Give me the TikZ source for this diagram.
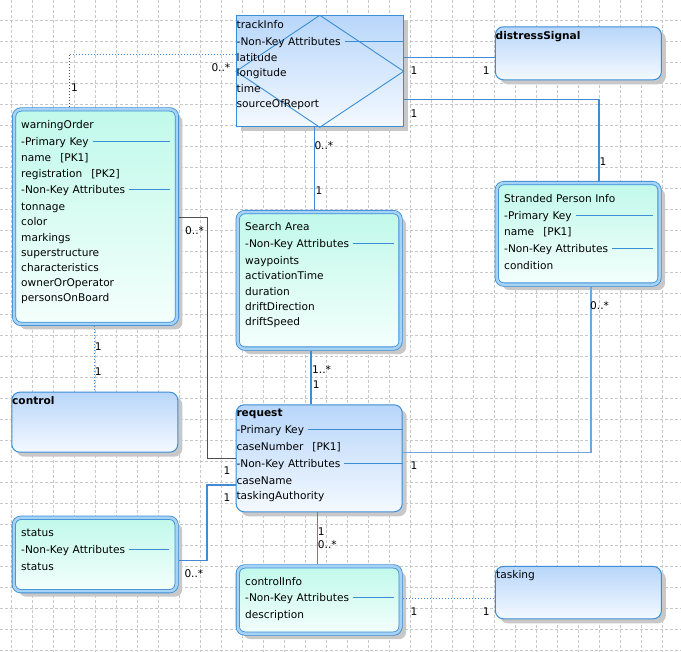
\documentclass[tikz,border=0pt]{standalone}
\usepackage{fontspec}
\setmainfont{DejaVu Sans}
\usetikzlibrary{shadows,backgrounds}
\definecolor{EntBorder}{RGB}{58,142,214}
\definecolor{EntBand}{RGB}{166,210,245}
\definecolor{EntTop}{RGB}{192,249,234}
\definecolor{EntBottom}{RGB}{244,255,252}
\definecolor{BoxTop}{RGB}{184,214,250}
\definecolor{BoxBottom}{RGB}{244,249,255}
\definecolor{LinkBlue}{RGB}{66,139,212}
\definecolor{LinkPale}{RGB}{112,166,222}
\definecolor{LinkGray}{RGB}{78,78,78}
\definecolor{GridGray}{RGB}{200,200,200}
\definecolor{ShadowGray}{RGB}{200,200,200}
\newcommand{\keyrow}[1]{#1\hspace{4pt}{\color{EntBorder}\leaders\hrule height 4.6pt depth -3.6pt\hskip 0pt plus 1fill}\hbox{}}
\newcommand{\pkgap}{\hspace{9pt}}
\tikzset{
  textfont/.style={font=\fontsize{10.6}{15.2}\selectfont,text=black,inner sep=0pt},
  entity/.style={draw=EntBorder,line width=0.8pt,double=EntBand,double distance=2.6pt,rounded corners=7pt,top color=EntTop,bottom color=EntBottom,minimum width=162.8pt,inner sep=0pt,drop shadow={shadow xshift=5.5pt,shadow yshift=-5.5pt,fill=ShadowGray,opacity=1}},
  roundbox/.style={draw=EntBorder,line width=1pt,rounded corners=8pt,top color=BoxTop,bottom color=BoxBottom,minimum width=166pt,inner sep=0pt,drop shadow={shadow xshift=4.5pt,shadow yshift=-4.5pt,fill=ShadowGray,opacity=1}},
  plainbox/.style={roundbox,sharp corners},
  boxtext/.style={textfont,align=left,anchor=base west},
  mult/.style={textfont,anchor=west},
  diamline/.style={draw=EntBorder,line width=0.9pt},
  link/.style={draw=LinkBlue,line width=1.3pt},
  linkpale/.style={draw=LinkPale,line width=1.6pt},
  linkgray/.style={draw=LinkGray,line width=1pt},
  dotconn/.style={draw=LinkBlue,line width=1.1pt,dash pattern=on 1pt off 2pt},
  dotgray/.style={draw=LinkGray,line width=1.1pt,dash pattern=on 1pt off 2pt},
  gridline/.style={draw=GridGray,line width=0.6pt,dash pattern=on 3pt off 2pt}
}
\begin{document}
\begin{tikzpicture}[x=1pt,y=-1pt]
\useasboundingbox (0,0) rectangle (681,652);
\fill[white] (0,0) rectangle (681,652);
\foreach \gx in {0,...,32} \draw[gridline] (11.5+21*\gx,0) -- (11.5+21*\gx,652);
\foreach \gy in {0,...,31} \draw[gridline] (0,20+21*\gy) -- (681,20+21*\gy);

\node[plainbox,minimum width=166.7pt,minimum height=111pt] (trackInfo) at (319.85,71.3) {};
\draw[diamline] (trackInfo.north) -- (trackInfo.east) -- (trackInfo.south) -- (trackInfo.west) -- cycle;
\node[roundbox,minimum height=53pt] (distressSignal) at (578.35,53.3) {};
\node[entity,minimum height=101.5pt] (strandedInfo) at (578.15,233.85) {};
\node[entity,minimum height=214.5pt] (warningOrder) at (95.5,216.65) {};
\node[roundbox,minimum height=60pt] (control) at (94.8,422.2) {};
\node[entity,minimum height=136.5pt] (searchArea) at (319.15,280.35) {};
\node[roundbox,minimum height=107pt] (request) at (319.2,458.3) {};
\node[entity,minimum height=73.4pt] (status) at (95.2,554.5) {};
\node[entity,minimum height=67.2pt] (controlInfo) at (319.2,600) {};
\node[roundbox,minimum height=52.3pt] (tasking) at (578.35,592.65) {};

\node[boxtext,text width=166.5pt] (trackInfoText) at (236.5,28.7) {trackInfo\\[1.4pt] \keyrow{-Non-Key Attributes}\\[1.2pt] latitude\\ longitude\\[0.6pt] time\\ sourceOfReport};
\node[boxtext] (distressSignalText) at (495.5,39.7) {\textbf{distressSignal}};
\node[boxtext,text width=149pt] (strandedInfoText) at (504,202.7) {Stranded Person Info\\[2.1pt] \keyrow{-Primary Key}\\[0.5pt] name\pkgap[PK1]\\[1.8pt] \keyrow{-Non-Key Attributes}\\[1.4pt] condition};
\node[boxtext,text width=149pt] (warningOrderText) at (21,128.7) {warningOrder\\[1.8pt] \keyrow{-Primary Key}\\[0.8pt] name\pkgap[PK1]\\[0.8pt] registration\pkgap[PK2]\\[1.1pt] \keyrow{-Non-Key Attributes}\\[1.5pt] tonnage\\ color\\ markings\\ superstructure\\ characteristics\\ ownerOrOperator\\ personsOnBoard};
\node[boxtext] (controlText) at (12,405) {\textbf{control}};
\node[boxtext,text width=149pt] (searchAreaText) at (245,230.7) {Search Area\\[1.8pt] \keyrow{-Non-Key Attributes}\\[1.8pt] waypoints\\ activationTime\\ duration\\ driftDirection\\ driftSpeed};
\node[boxtext,text width=166.5pt] (requestText) at (236.3,416.7) {\textbf{request}\\[2.1pt] \keyrow{-Primary Key}\\[1.8pt] caseNumber\pkgap[PK1]\\[1.5pt] \keyrow{-Non-Key Attributes}\\[1.8pt] caseName\\ taskingAuthority};
\node[boxtext,text width=148pt] (statusText) at (21,537) {status\\[1.8pt] \keyrow{-Non-Key Attributes}\\[1.8pt] status};
\node[boxtext,text width=149pt] (controlInfoText) at (245,585.7) {controlInfo\\[0.8pt] \keyrow{-Non-Key Attributes}\\[1.8pt] description};
\node[boxtext] (taskingText) at (496,579) {tasking};

\coordinate (wtBend) at (69.7,54.3);
\draw[dotgray,shorten <=2pt] (warningOrder.north -| wtBend) -- (wtBend);
\draw[dotconn] (wtBend) -- (wtBend -| trackInfo.west);
\draw[link] (trackInfo.east |- 0,57.3) -- (distressSignal.west |- 0,57.3);
\draw[link,shorten >=2pt] (trackInfo.east |- 0,99.7) -| (strandedInfo.north -| 599,0);
\draw[link,shorten >=2pt] (trackInfo.south -| 314.7,0) -- (searchArea.north -| 314.7,0);
\draw[linkgray,shorten <=2pt] (warningOrder.east |- 0,217.3) -| (207.5,458.3) -- (request.west);
\draw[dotconn,shorten <=2pt] (warningOrder.south -| 94.7,0) -- (control.north -| 94.7,0);
\draw[link,shorten <=2pt] (searchArea.south -| 311,0) -- (request.north -| 311,0);
\draw[linkpale,shorten <=2pt] (strandedInfo.south -| 591,0) |- (request.east |- 0,452.7);
\draw[link,shorten >=2pt] (request.west |- 0,485) -| (207,560.7) -- (status.east |- 0,560.7);
\draw[link,shorten >=2pt] (request.south -| 317.7,0) -- (controlInfo.north -| 317.7,0);
\draw[dotconn,shorten <=2pt] (controlInfo.east |- 0,598.3) -- (tasking.west |- 0,598.3);

\node[mult] (wtTrack) at (211.3,68) {0..*};
\node[mult] (wtWarn) at (71,88) {1};
\node[mult] (tdTrack) at (410.5,70.7) {1};
\node[mult] (tdSignal) at (482.7,70.7) {1};
\node[mult] (tsTrack) at (410.5,113.7) {1};
\node[mult] (tsStranded) at (599.3,161.7) {1};
\node[mult] (taTrack) at (314.3,146) {0..*};
\node[mult] (taSearch) at (315.3,190.7) {1};
\node[mult] (wrWarn) at (185,230.7) {0..*};
\node[mult] (wrRequest) at (223.3,470.7) {1};
\node[mult] (wcWarn) at (94.7,346.7) {1};
\node[mult] (wcControl) at (94.7,371.7) {1};
\node[mult] (srSearch) at (312,369.7) {1..*};
\node[mult] (srRequest) at (312.7,384.7) {1};
\node[mult] (prStranded) at (590,306) {0..*};
\node[mult] (prRequest) at (410.5,465.7) {1};
\node[mult] (rsRequest) at (223.3,497.7) {1};
\node[mult] (rsStatus) at (184.3,574) {0..*};
\node[mult] (rcRequest) at (317.7,532) {1};
\node[mult] (rcControl) at (317.7,544.3) {0..*};
\node[mult] (ctControl) at (410.5,611.7) {1};
\node[mult] (ctTasking) at (482.7,611.7) {1};
\end{tikzpicture}
\end{document}
